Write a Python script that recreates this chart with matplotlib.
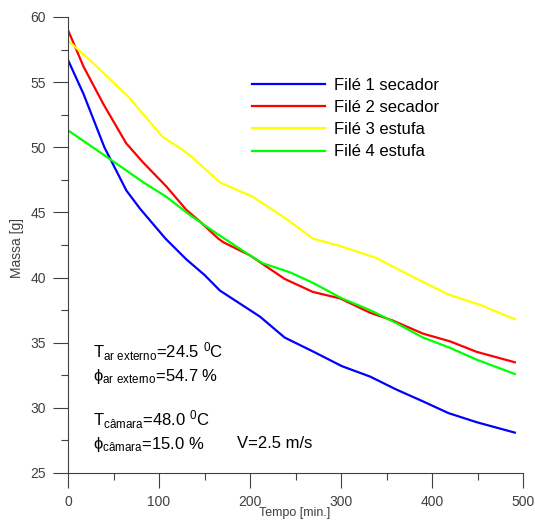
import matplotlib
matplotlib.use("Agg")
import matplotlib.pyplot as plt
from matplotlib.ticker import MultipleLocator

plt.rcParams['font.family'] = ['Liberation Sans', 'DejaVu Sans']
plt.rcParams['mathtext.fontset'] = 'custom'
plt.rcParams['mathtext.rm'] = 'Liberation Sans'
plt.rcParams['mathtext.it'] = 'Liberation Sans'

# Data
t_blue = [0, 17, 40, 64, 79, 107, 130, 150, 167, 189, 211, 238, 270, 301, 332, 361, 390, 418, 449, 491]
m_blue = [56.7, 54.1, 50.0, 46.7, 45.3, 43.0, 41.4, 40.2, 39.0, 38.0, 37.0, 35.4, 34.3, 33.2, 32.4, 31.4, 30.5, 29.6, 28.9, 28.1]

t_red = [0, 17, 39, 64, 83, 108, 130, 145, 165, 171, 200, 238, 269, 299, 332, 357, 390, 420, 449, 491]
m_red = [59.0, 56.2, 53.3, 50.3, 48.8, 47.0, 45.2, 44.3, 43.0, 42.7, 41.7, 39.9, 38.9, 38.4, 37.3, 36.7, 35.7, 35.1, 34.3, 33.5]

t_yellow = [0, 27, 66, 104, 126, 137, 167, 203, 238, 269, 300, 339, 372, 418, 453, 491]
m_yellow = [58.2, 56.5, 53.9, 50.8, 49.8, 49.2, 47.3, 46.2, 44.6, 43.0, 42.4, 41.5, 40.3, 38.7, 37.9, 36.8]

t_green = [0, 46, 83, 108, 134, 163, 200, 214, 244, 269, 301, 332, 361, 390, 420, 449, 491]
m_green = [51.3, 49.1, 47.3, 46.2, 44.8, 43.4, 41.7, 41.1, 40.4, 39.6, 38.4, 37.5, 36.5, 35.4, 34.6, 33.7, 32.6]

labels = ['Filé 1 secador', 'Filé 2 secador', 'Filé 3 estufa', 'Filé 4 estufa']
colors = ['#0000ff', '#ff0000', '#ffff00', '#00ff00']

fig = plt.figure(figsize=(5.35, 5.22), dpi=100)
ax = fig.add_axes([68/535, 1-473/522, (523-68)/535, (473-17)/522])

series = [(t_blue, m_blue), (t_red, m_red), (t_yellow, m_yellow), (t_green, m_green)]
for (t, m), lab, c in zip(series, labels, colors):
    ax.plot(t, m, color=c, lw=1.6, label=lab)

ax.set_xlim(0, 500)
ax.set_ylim(25, 60)
ax.xaxis.set_major_locator(MultipleLocator(100))
ax.xaxis.set_minor_locator(MultipleLocator(50))
ax.yaxis.set_major_locator(MultipleLocator(5))
ax.yaxis.set_minor_locator(MultipleLocator(2.5))
for s in ['top', 'right']:
    ax.spines[s].set_visible(False)
for s in ['left', 'bottom']:
    ax.spines[s].set_color('#404040')
    ax.spines[s].set_linewidth(0.8)
ax.tick_params(which='major', direction='out', length=11, width=0.8, color='#404040',
               labelsize=10, labelcolor='#404040')
ax.tick_params(which='minor', direction='out', length=5, width=0.8, color='#404040')
ax.tick_params(axis='x', which='major', pad=5)
ax.tick_params(axis='y', which='major', pad=5)

fig.text(17/535, 1-248/522, 'Massa [g]', fontsize=10, color='#404040', rotation=90,
         ha='center', va='center')
fig.text(295/535, 1-513/522, 'Tempo [min.]', fontsize=9, color='#404040',
         ha='center', va='center')

leg = ax.legend(loc='upper left', bbox_to_anchor=(252/535, 1-78/522), bbox_transform=fig.transFigure,
                frameon=False, fontsize=12, handlelength=4.4, handletextpad=0.5,
                labelspacing=0.43, borderpad=0, borderaxespad=0)

tk = dict(fontsize=12, color='black', va='center', ha='left')
ax.text(27.5, 34.3, r'T$_{\mathrm{ar\ externo}}$=24.5 $^{0}$C', **tk)
ax.text(27.5, 32.4, r'$\mathrm{\phi}_{\mathrm{ar\ externo}}$=54.7 %', **tk)
ax.text(27.5, 29.1, r'T$_{\mathrm{câmara}}$=48.0 $^{0}$C', **tk)
ax.text(27.5, 27.2, r'$\mathrm{\phi}_{\mathrm{câmara}}$=15.0 %', **tk)
ax.text(186, 27.3, 'V=2.5 m/s', **tk)

fig.savefig('out.png', dpi=100)
